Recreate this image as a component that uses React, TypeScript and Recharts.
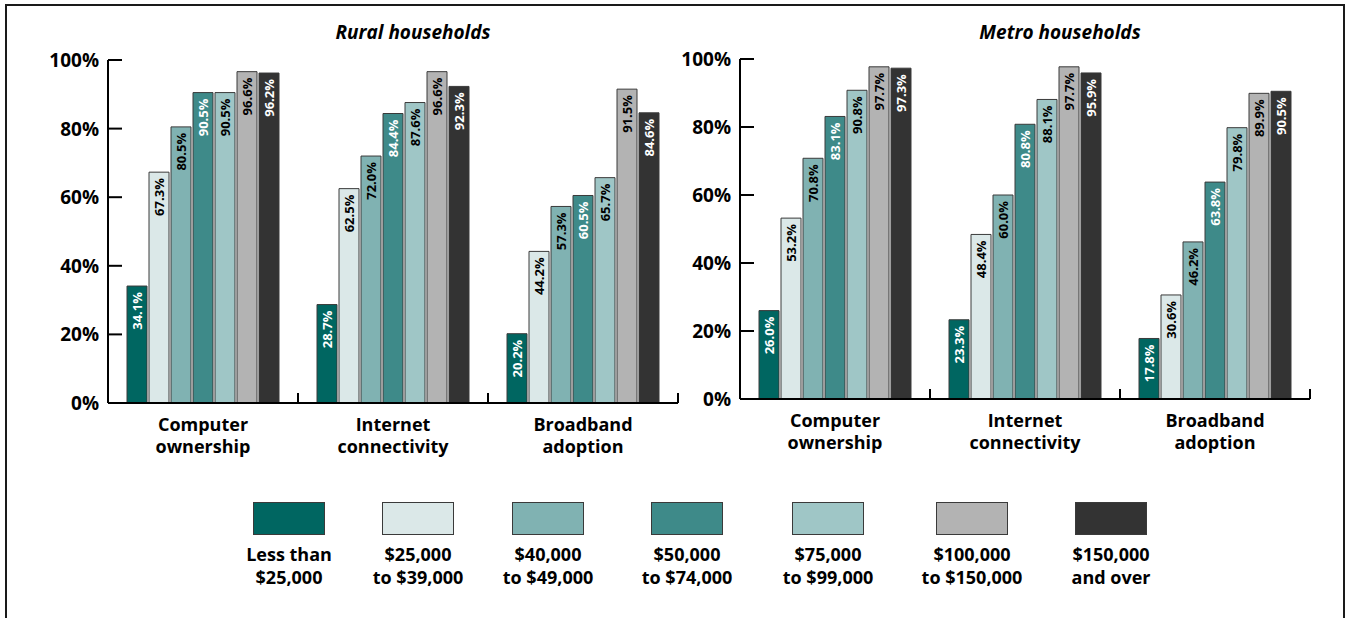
import { BarChart, Bar, XAxis, YAxis, LabelList } from "recharts";

const categories = ["Computer ownership", "Internet connectivity", "Broadband adoption"];
const categoryLines = [
  ["Computer", "ownership"],
  ["Internet", "connectivity"],
  ["Broadband", "adoption"],
];

const brackets = [
  "Less than $25,000",
  "$25,000 to $39,000",
  "$40,000 to $49,000",
  "$50,000 to $74,000",
  "$75,000 to $99,000",
  "$100,000 to $150,000",
  "$150,000 and over",
];
const bracketLines = [
  ["Less than", "$25,000"],
  ["$25,000", "to $39,000"],
  ["$40,000", "to $49,000"],
  ["$50,000", "to $74,000"],
  ["$75,000", "to $99,000"],
  ["$100,000", "to $150,000"],
  ["$150,000", "and over"],
];

// values per category, one per income bracket
const ruralComputer = [34.1, 67.3, 80.5, 90.5, 90.5, 96.6, 96.2];
const ruralInternet = [28.7, 62.5, 72.0, 84.4, 87.6, 96.6, 92.3];
const ruralBroadband = [20.2, 44.2, 57.3, 60.5, 65.7, 91.5, 84.6];

const metroComputer = [26.0, 53.2, 70.8, 83.1, 90.8, 97.7, 97.3];
const metroInternet = [23.3, 48.4, 60.0, 80.8, 88.1, 97.7, 95.9];
const metroBroadband = [17.8, 30.6, 46.2, 63.8, 79.8, 89.9, 90.5];

const yTicks = [0, 20, 40, 60, 80, 100];

const COLORS = ["#006661", "#dbe8e8", "#80b2b2", "#3e8a89", "#9fc6c6", "#b3b3b3", "#333333"];
const LABEL_COLORS = ["#fff", "#000", "#000", "#fff", "#000", "#000", "#fff"];
const LEGEND_X = [289, 418, 548, 687, 828, 972, 1111];

const FONT = "'Open Sans', 'Noto Sans', sans-serif";
const CAT_W = 190;

function buildRows(groups: number[][]) {
  return categories.map((name, i) => {
    const row: Record<string, number | string> = { name, idx: i };
    brackets.forEach((_, s) => {
      row[`s${s}`] = groups[i][s];
    });
    return row;
  });
}

const ruralRows = buildRows([ruralComputer, ruralInternet, ruralBroadband]);
const metroRows = buildRows([metroComputer, metroInternet, metroBroadband]);

const YTick = (props: any) => {
  const { x, y, payload } = props;
  return (
    <g>
      <line x1={x} x2={x + 14} y1={y} y2={y} stroke="#000" strokeWidth={2} />
      <text
        x={x - 9}
        y={y}
        dy={7}
        textAnchor="end"
        fontFamily={FONT}
        fontWeight={700}
        fontSize={19}
        fill="#000"
      >
        {payload.value}%
      </text>
    </g>
  );
};

const XTick = (props: any) => {
  const { x, y, index } = props;
  const lines = categoryLines[index] || [];
  return (
    <g>
      <line x1={x + CAT_W / 2} x2={x + CAT_W / 2} y1={y - 10} y2={y} stroke="#000" strokeWidth={2} />
      {lines.map((t, k) => (
        <text
          key={k}
          x={x}
          y={y + 28 + k * 22}
          textAnchor="middle"
          fontFamily={FONT}
          fontWeight={700}
          fontSize={18}
          fill="#000"
        >
          {t}
        </text>
      ))}
    </g>
  );
};

const makeLabel = (color: string) => (props: any) => {
  const { x, y, width, value } = props;
  const cx = x + width / 2;
  const ty = y + 6;
  return (
    <text
      x={cx}
      y={ty}
      transform={`rotate(-90, ${cx}, ${ty})`}
      textAnchor="end"
      dominantBaseline="central"
      fontFamily={FONT}
      fontWeight={700}
      fontSize={13}
      fill={color}
    >
      {`${Number(value).toFixed(1)}%`}
    </text>
  );
};

function Panel({ rows, left, top, bottom, title, titleCenter }: any) {
  const height = 480;
  return (
    <div style={{ position: "absolute", left, top: 0 }}>
      <BarChart
        width={700}
        height={height}
        data={rows}
        margin={{ top, right: 22, bottom: 0, left: 0 }}
        barCategoryGap={19}
        barGap={2}
      >
        <XAxis
          dataKey="name"
          height={height - bottom}
          axisLine={{ stroke: "#000", strokeWidth: 2 }}
          tickLine={false}
          tickSize={0}
          tickMargin={0}
          tick={<XTick />}
          interval={0}
        />
        <YAxis
          width={108}
          domain={[0, 100]}
          ticks={yTicks}
          axisLine={{ stroke: "#000", strokeWidth: 2 }}
          tickLine={false}
          tickSize={0}
          tickMargin={0}
          tick={<YTick />}
          interval={0}
        />
        {brackets.map((b, s) => (
          <Bar
            key={b}
            dataKey={`s${s}`}
            name={b}
            fill={COLORS[s]}
            stroke="#3a3a3a"
            strokeWidth={1}
            isAnimationActive={false}
          >
            <LabelList dataKey={`s${s}`} content={makeLabel(LABEL_COLORS[s])} />
          </Bar>
        ))}
      </BarChart>
      <div
        style={{
          position: "absolute",
          left: titleCenter - 150,
          width: 300,
          top: 19,
          textAlign: "center",
          fontFamily: FONT,
          fontWeight: 700,
          fontStyle: "italic",
          fontSize: 19,
          lineHeight: "26px",
          color: "#000",
        }}
      >
        {title}
      </div>
    </div>
  );
}

export default function App() {
  return (
    <div
      style={{
        position: "absolute",
        left: 0,
        top: 0,
        width: 1349,
        height: 618,
        overflow: "hidden",
        background: "#fff",
      }}
    >
      <div
        style={{
          position: "absolute",
          left: 5,
          top: 4,
          width: 1336,
          height: 700,
          border: "2px solid #1a1a1a",
        }}
      />
      <Panel rows={ruralRows} left={0} top={60} bottom={403} title="Rural households" titleCenter={413} />
      <Panel rows={metroRows} left={632} top={59} bottom={399} title="Metro households" titleCenter={428} />
      {brackets.map((b, s) => (
        <div
          key={b}
          style={{
            position: "absolute",
            left: LEGEND_X[s] - 70,
            top: 502,
            width: 140,
            textAlign: "center",
            fontFamily: FONT,
            fontWeight: 700,
            fontSize: 18,
            lineHeight: "23px",
            color: "#000",
          }}
        >
          <div
            style={{
              width: 70,
              height: 31,
              margin: "0 auto 8px",
              background: COLORS[s],
              border: "1px solid #3a3a3a",
            }}
          />
          {bracketLines[s].map((t, k) => (
            <div key={k}>{t}</div>
          ))}
        </div>
      ))}
    </div>
  );
}
